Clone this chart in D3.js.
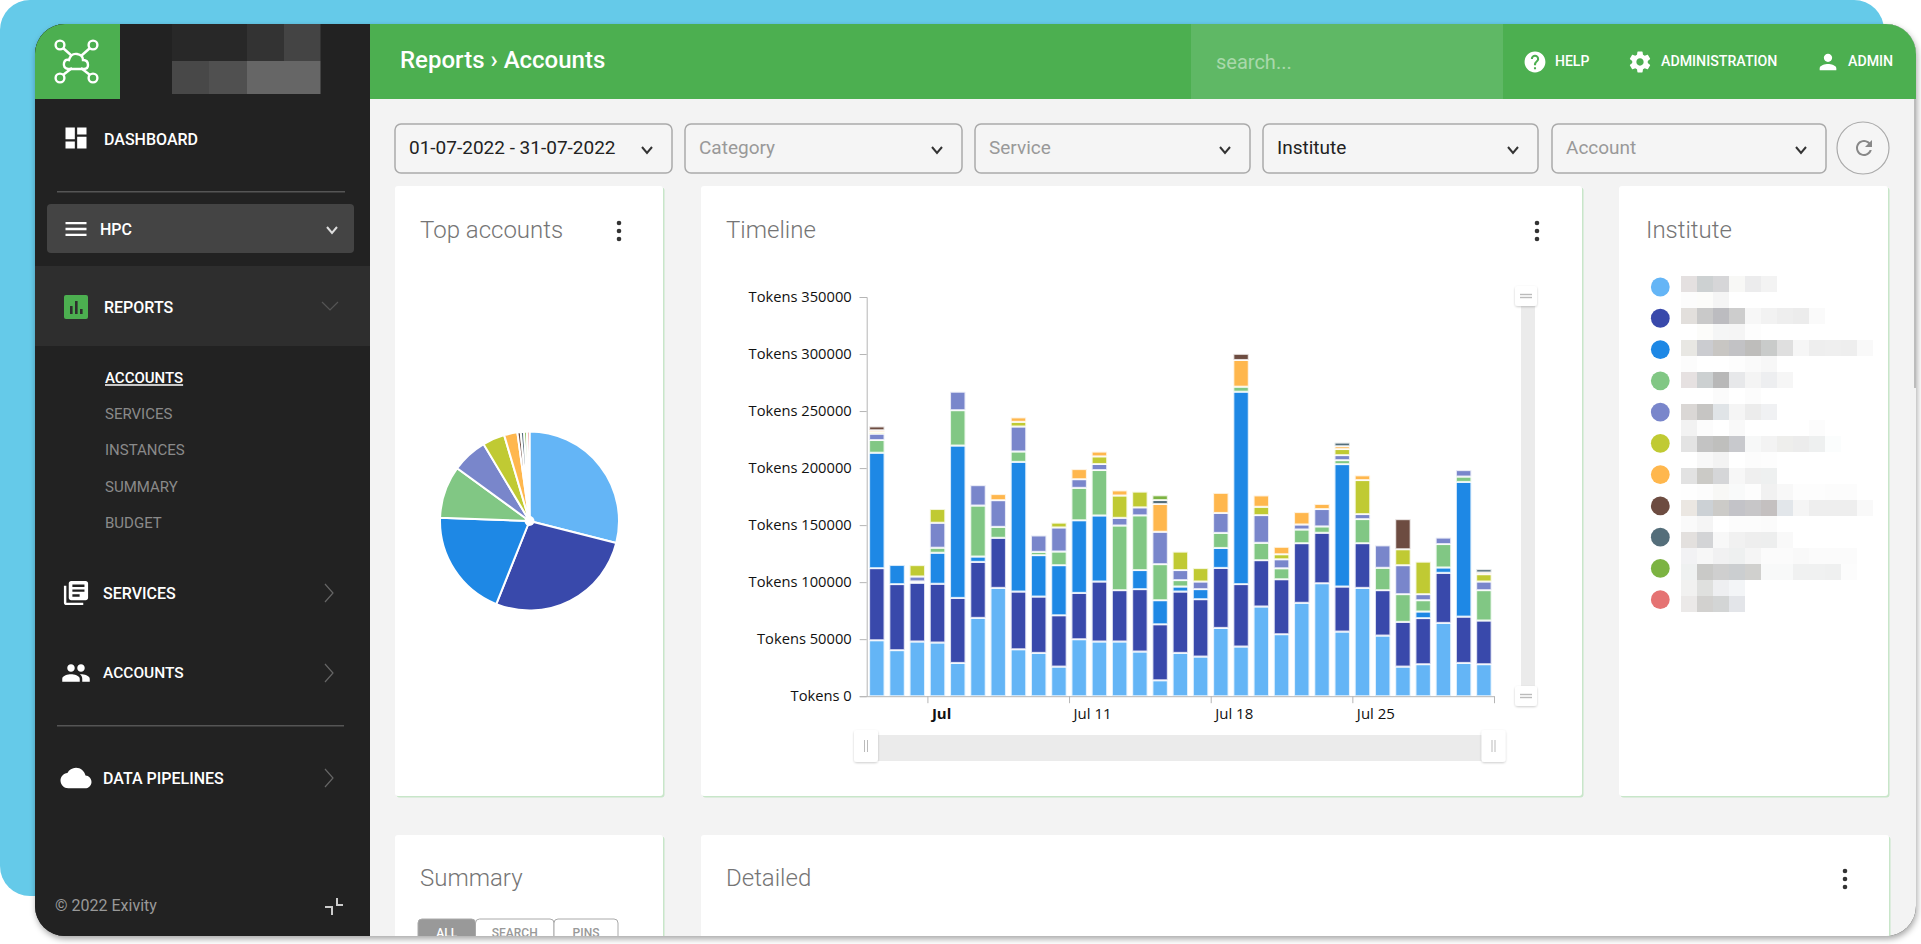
<!DOCTYPE html>
<html>
<head>
<meta charset="utf-8">
<title>Reports - Accounts</title>
<script src="https://cdnjs.cloudflare.com/ajax/libs/d3/7.8.5/d3.min.js"></script>
<style>
  html, body { margin: 0; padding: 0; background: #fff; overflow: hidden; }
  svg { display: block; font-family: Roboto, sans-serif; }
  .axis text { font-family: "Open Sans", sans-serif; font-size: 14.7px; fill: #111; }
  .axis path, .axis line { stroke: #b5b5b5; }
</style>
</head>
<body>
<svg width="1921" height="944"></svg>
<script>
// values
var days = d3.range(1, 32);
var institutes = ["s1", "s2", "s3", "s4", "s5", "s6", "s7", "s8", "s9", "s10", "s11"];
var colors = ["#64b5f6", "#3949ab", "#1e88e5", "#81c784", "#7986cb", "#c0ca33", "#ffb74d", "#6d4c41", "#546e7a", "#7cb342", "#e57373"];

var s1  = [49100, 40400, 48000, 47100, 29200, 68700, 95000, 41200, 38000, 26000, 50000, 48000, 48000, 39200, 14000, 38000, 34800, 59900, 43600, 78700, 54400, 81900, 99100, 56700, 95000, 53200, 26000, 28100, 64300, 29200, 28100];
var s2  = [63200, 57900, 51500, 51500, 57000, 49100, 43900, 50600, 49400, 45000, 40600, 52600, 45000, 54700, 49100, 53800, 50300, 52600, 54700, 40600, 48200, 52300, 44200, 39500, 39200, 39800, 39200, 40400, 43900, 40600, 38300];
var s3  = [101200, 16700, 600, 27200, 133600, 4700, 0, 113700, 36300, 43900, 63700, 57900, 0, 16700, 21100, 4400, 8800, 17500, 168700, 0, 0, 0, 0, 107300, 0, 0, 0, 5800, 4700, 118100, 0];
var s4  = [11100, 0, 600, 4400, 31000, 44700, 9600, 9100, 2900, 12000, 28400, 39800, 56700, 48000, 31600, 5600, 0, 13200, 4400, 15200, 9600, 12000, 5600, 3500, 21100, 19600, 24300, 9900, 20500, 4700, 26600];
var s5  = [5600, 0, 4300, 21900, 16100, 17800, 23400, 21900, 14300, 21100, 7600, 5300, 6700, 7000, 28400, 8800, 6700, 17500, 0, 24300, 7900, 4400, 15200, 4400, 4400, 19600, 25400, 5300, 5600, 5600, 7600];
var s6  = [1500, 0, 9900, 12000, 0, 0, 0, 4100, 0, 4100, 0, 6700, 19600, 13700, 0, 16100, 11700, 0, 0, 7300, 4400, 0, 0, 5300, 29800, 0, 14000, 28400, 0, 0, 6400];
var s7  = [1500, 0, 0, 0, 0, 0, 5300, 3800, 0, 0, 8800, 4100, 4400, 0, 24300, 0, 0, 17500, 23400, 9900, 6400, 10800, 4400, 2500, 4100, 0, 0, 0, 0, 0, 1500];
var s8  = [3300, 0, 0, 0, 0, 0, 0, 0, 0, 0, 0, 0, 0, 0, 0, 0, 0, 0, 5300, 0, 0, 0, 0, 0, 0, 0, 26300, 0, 0, 0, 0];
var s9  = [0, 0, 0, 0, 0, 0, 0, 0, 0, 0, 0, 0, 0, 0, 3500, 0, 0, 0, 0, 0, 0, 0, 0, 3100, 0, 0, 0, 0, 0, 0, 2900];
var s10 = [0, 0, 0, 0, 0, 0, 0, 0, 0, 0, 0, 0, 0, 0, 4100, 0, 0, 0, 0, 0, 0, 0, 0, 0, 0, 0, 0, 0, 0, 0, 0];
var s11 = [0, 0, 0, 0, 0, 0, 0, 0, 0, 0, 0, 0, 0, 0, 0, 0, 0, 0, 0, 0, 0, 0, 0, 0, 0, 0, 0, 0, 0, 0, 0];

var pieValues = [28.94, 27.06, 19.5, 9.44, 6.4, 4.0, 2.4, 0.6, 0.6, 0.5, 0.46];
var yTicks = [0, 50000, 100000, 150000, 200000, 250000, 300000, 350000];
var xTickDays = [4, 11, 18, 25, 32];
var xTickLabels = ["Jul", "Jul 11", "Jul 18", "Jul 25", ""];

// blurred-out names in the legend, one row of grey cells per line
var mosaic = [
  "e4e0e0 cdd1d2 d6d6d8 f8f8f6 ececed f3f3f3",
  "fcfcfc fcfcfa f5f5f5",
  "e2dfdc c9c9c9 bcbcc0 cdcdcd f7f7f7 f2f2f2 eeeeee ececec fafafa",
  "ffffff fcfcfa f5f6f6 f5f5f5 fdfdfd",
  "e8e7e3 cbccd0 c8c6c3 c2c2c5 bebdbb c9cbca dfdfdf f6f6f6 eeeeee efefef eeeeee f9f9f9",
  "fcfcfc ffffff ffffff fdfdfd fafafa f7f7f7",
  "e6e1e1 ccd0d1 b8b8b8 e7e8ea f4f4f4 edeef0 f6f6f6",
  "ffffff ffffff fbfbfb ffffff fcfcfc",
  "dad7d5 c6c5c3 e0e4e7 f5f5f5 ececec f0f1f3",
  "f2f2f2 fcfcfc ffffff f9f9f9 ffffff ffffff ffffff ffffff fcfcfc",
  "e3e3e3 c3c3c3 bfbfbd c8c9cd f7f8f8 f3f3f3 eeeeec ececec eef0f0 fbfdfd",
  "ffffff f8f8f8 f3f3f3 ffffff fcfcfc fdfdfd",
  "e2e2e2 cbcac6 d5d6d8 f7f7f7 efefef eef0f0",
  "fefefe fcfcfc f8f8f6 f9fafa fdfdfd f1f1f1 f8f8f8 fdfdfd fdfdfd fcfcfc fcfcfc",
  "ebe7e2 ccd1d5 cccbc8 c3c3c8 c7c6c8 c4c0c0 e2e6ea f5f5f5 eeeeee eeeeee eeeeee f9f9f9",
  "fafafa f5f5f5 ffffff fcfcfc fcfcfc fbfbfb",
  "e3e0de d3d4d6 f8f8f8 f1f1f1 eeeeee edeeee f9f9f9",
  "f2f2f4 f7f7f7 f1f1f2 eef0f0 f5f5f5 fbfbfb fbfbfb f9f9f9 fbfbfb fbfbfb fbfbfb",
  "eff1f1 c9c9c7 cfcfcf cbced0 d0d0ce f8f9f9 f8f9f9 f0f1f1 f0f1f1 eff0f0 fcfcfc",
  "f1f1f0 dfe0de eeeff1 f3f5f7",
  "ebe9e8 d2d1cf d3d5d5 e3e5e9"
];

var icons = {
  dashboard: "M3 13h8V3H3v10zm0 8h8v-6H3v6zm10 0h8V11h-8v10zm0-18v6h8V3h-8z",
  menu: "M3 18h18v-2H3v2zm0-5h18v-2H3v2zm0-7v2h18V6H3z",
  reports: "M19 3H5c-1.1 0-2 .9-2 2v14c0 1.1.9 2 2 2h14c1.1 0 2-.9 2-2V5c0-1.1-.9-2-2-2zM9 17H7v-7h2v7zm4 0h-2V7h2v10zm4 0h-2v-4h2v4z",
  services: "M4 6H2v14c0 1.1.9 2 2 2h14v-2H4V6zm16-4H8c-1.1 0-2 .9-2 2v12c0 1.1.9 2 2 2h12c1.1 0 2-.9 2-2V4c0-1.1-.9-2-2-2zm-1 9H9V9h10v2zm-4 4H9v-2h6v2zm4-8H9V5h10v2z",
  people: "M16 11c1.66 0 2.99-1.34 2.99-3S17.66 5 16 5c-1.66 0-3 1.34-3 3s1.34 3 3 3zm-8 0c1.66 0 2.99-1.34 2.99-3S9.66 5 8 5C6.34 5 5 6.34 5 8s1.34 3 3 3zm0 2c-2.33 0-7 1.17-7 3.5V19h14v-2.5c0-2.33-4.67-3.5-7-3.5zm8 0c-.29 0-.62.02-.97.05 1.16.84 1.97 1.97 1.97 3.45V19h6v-2.5c0-2.33-4.67-3.5-7-3.5z",
  cloud: "M19.35 10.04C18.67 6.59 15.64 4 12 4 9.11 4 6.6 5.64 5.35 8.04 2.34 8.36 0 10.91 0 14c0 3.31 2.69 6 6 6h13c2.76 0 5-2.24 5-5 0-2.64-2.05-4.78-4.65-4.96z",
  help: "M12 2C6.48 2 2 6.48 2 12s4.48 10 10 10 10-4.48 10-10S17.52 2 12 2zm1 17h-2v-2h2v2zm2.07-7.75l-.9.92C13.45 12.9 13 13.5 13 15h-2v-.5c0-1.1.45-2.1 1.17-2.83l1.24-1.26c.37-.36.59-.86.59-1.41 0-1.1-.9-2-2-2s-2 .9-2 2H8c0-2.21 1.79-4 4-4s4 1.79 4 4c0 .88-.36 1.68-.93 2.25z",
  settings: "M19.43 12.98c.04-.32.07-.64.07-.98s-.03-.66-.07-.98l2.11-1.65c.19-.15.24-.42.12-.64l-2-3.46c-.12-.22-.39-.3-.61-.22l-2.49 1c-.52-.4-1.08-.73-1.69-.98l-.38-2.65C14.46 2.18 14.25 2 14 2h-4c-.25 0-.46.18-.49.42l-.38 2.65c-.61.25-1.17.59-1.69.98l-2.49-1c-.23-.09-.49 0-.61.22l-2 3.46c-.13.22-.07.49.12.64l2.11 1.65c-.04.32-.07.65-.07.98s.03.66.07.98l-2.11 1.65c-.19.15-.24.42-.12.64l2 3.46c.12.22.39.3.61.22l2.49-1c.52.4 1.08.73 1.69.98l.38 2.65c.03.24.24.42.49.42h4c.25 0 .46-.18.49-.42l.38-2.65c.61-.25 1.17-.59 1.69-.98l2.49 1c.23.09.49 0 .61-.22l2-3.46c.12-.22.07-.49-.12-.64l-2.11-1.65zM12 15.5c-1.93 0-3.5-1.57-3.5-3.5s1.57-3.5 3.5-3.5 3.5 1.57 3.5 3.5-1.57 3.5-3.5 3.5z",
  person: "M12 12c2.21 0 4-1.79 4-4s-1.79-4-4-4-4 1.79-4 4 1.79 4 4 4zm0 2c-2.67 0-8 1.34-8 4v2h16v-2c0-2.66-5.33-4-8-4z",
  refresh: "M17.65 6.35C16.2 4.9 14.21 4 12 4c-4.42 0-7.99 3.58-7.99 8s3.57 8 7.99 8c3.73 0 6.84-2.55 7.73-6h-2.08c-.82 2.33-3.04 4-5.65 4-3.31 0-6-2.69-6-6s2.69-6 6-6c1.66 0 3.14.69 4.22 1.78L13 11h7V4l-2.35 2.35z"
};

var svg = d3.select("svg");
var defs = svg.append("defs");

var shadow = defs.append("filter").attr("id", "winShadow")
  .attr("x", "-5%").attr("y", "-5%").attr("width", "110%").attr("height", "110%");
shadow.append("feDropShadow").attr("dx", 1).attr("dy", 3).attr("stdDeviation", 3)
  .attr("flood-color", "#000").attr("flood-opacity", 0.35);

var handleShadow = defs.append("filter").attr("id", "handleShadow")
  .attr("x", "-30%").attr("y", "-30%").attr("width", "160%").attr("height", "160%");
handleShadow.append("feDropShadow").attr("dx", 0).attr("dy", 1).attr("stdDeviation", 1)
  .attr("flood-color", "#000").attr("flood-opacity", 0.2);

defs.append("clipPath").attr("id", "winClip").append("rect")
  .attr("x", 35).attr("y", 24).attr("width", 1881).attr("height", 912).attr("rx", 30);

function rect(parent, x, y, w, h, fill, rx) {
  return parent.append("rect").attr("x", x).attr("y", y).attr("width", w).attr("height", h)
    .attr("fill", fill).attr("rx", rx || 0);
}

function label(parent, x, y, str, size, fill, weight, font) {
  return parent.append("text").attr("x", x).attr("y", y).attr("dy", "0.35em")
    .attr("font-size", size).attr("fill", fill).attr("font-weight", weight || 400)
    .attr("font-family", font || null).text(str);
}

function icon(parent, name, cx, cy, size, fill) {
  var k = size / 24;
  return parent.append("path").attr("d", icons[name]).attr("fill", fill)
    .attr("transform", "translate(" + (cx - size / 2) + "," + (cy - size / 2) + ") scale(" + k + ")");
}

function chevronDown(parent, cx, cy, color) {
  parent.append("path").attr("d", "M" + (cx - 5) + "," + (cy - 3) + "L" + cx + "," + (cy + 3) + "L" + (cx + 5) + "," + (cy - 3))
    .attr("fill", "none").attr("stroke", color).attr("stroke-width", 2);
}

function chevronRight(parent, cx, cy) {
  parent.append("path").attr("d", "M" + (cx - 4) + "," + (cy - 9) + "L" + (cx + 4) + "," + cy + "L" + (cx - 4) + "," + (cy + 9))
    .attr("fill", "none").attr("stroke", "#666").attr("stroke-width", 1.2);
}

// page backdrop and window
rect(svg, 0, 0, 1884, 896, "#65cae9", 30);
rect(svg, 35, 24, 1881, 912, "#222", 30).attr("filter", "url(#winShadow)");
var win = svg.append("g").attr("clip-path", "url(#winClip)");

rect(win, 370, 24, 1550, 920, "#f3f3f3");
rect(win, 1914, 60, 2, 328, "#bcbcbc");

// header
rect(win, 370, 24, 1550, 75, "#4caf50");
rect(win, 1191, 24, 312, 75, "#5fb865");
label(win, 400, 60, "Reports \u203a Accounts", 24, "#fff", 500);
label(win, 1216, 62, "search...", 20, "#a9d8ab", 400);
icon(win, "help", 1535, 62, 25, "#fff");
label(win, 1555, 61, "HELP", 14, "#fff", 500);
icon(win, "settings", 1640, 62, 25, "#fff");
label(win, 1661, 61, "ADMINISTRATION", 14.2, "#fff", 500);
icon(win, "person", 1828, 62, 25, "#fff");
label(win, 1848, 61, "ADMIN", 14.2, "#fff", 500);

// sidebar
rect(win, 35, 24, 335, 920, "#222");
rect(win, 35, 24, 85, 75, "#4caf50");
var mosaicTop = [["#282828", 172, 75], ["#333", 247, 37], ["#444", 284, 36.5]];
mosaicTop.forEach(function(m) { rect(win, m[1], 24, m[2], 37, m[0]); });
var mosaicBottom = [["#484848", 172, 37], ["#505050", 209, 38], ["#666", 247, 73.5]];
mosaicBottom.forEach(function(m) { rect(win, m[1], 61, m[2], 33, m[0]); });

// logo
var logo = win.append("g").attr("fill", "none").attr("stroke", "#fff").attr("stroke-width", 2.4);
var logoEnds = [[60, 45], [93, 45], [60, 78], [93, 78]];
logoEnds.forEach(function(p) {
  logo.append("circle").attr("cx", p[0]).attr("cy", p[1]).attr("r", 4.4);
  logo.append("line").attr("x1", p[0] + (p[0] < 76 ? 3 : -3)).attr("y1", p[1] + (p[1] < 60 ? 3 : -3))
    .attr("x2", p[0] + (p[0] < 76 ? 12 : -12)).attr("y2", p[1] + (p[1] < 60 ? 11 : -10));
});
logo.append("path").attr("d", "M68,69 q-5,-1 -4,-6 q1,-4 5,-3 q2,-7 8,-6 q6,1 6,6 q5,0 5,5 q0,4 -4,4 Z");

icon(win, "dashboard", 76, 138, 28, "#fff");
label(win, 104, 139, "DASHBOARD", 16, "#fff", 500);
rect(win, 57, 191, 288, 1.5, "#555");
rect(win, 47, 204, 307, 49, "#444", 4);
icon(win, "menu", 76, 229, 28, "#fff");
label(win, 100, 229, "HPC", 16, "#fff", 500);
chevronDown(win, 332, 230, "#ddd");

rect(win, 35, 266, 335, 80, "#2e2e2e");
rect(win, 64, 295, 24, 24, "#4caf50", 2);
icon(win, "reports", 76, 307, 28, "#4caf50");
win.append("g").selectAll("rect").data([[70, 306, 8], [75, 301, 13], [80, 309, 5]]).enter().append("rect")
  .attr("x", function(d) { return d[0]; }).attr("y", function(d) { return d[1]; })
  .attr("width", 2.6).attr("height", function(d) { return d[2]; }).attr("fill", "#2e2e2e");
label(win, 104, 307, "REPORTS", 16, "#fff", 500);
win.append("path").attr("d", "M322,302L330,310L338,302").attr("fill", "none").attr("stroke", "#555").attr("stroke-width", 1.2);

label(win, 105, 378, "ACCOUNTS", 15, "#fff", 500).attr("text-decoration", "underline");
var subItems = ["SERVICES", "INSTANCES", "SUMMARY", "BUDGET"];
var subY = [414, 450, 487, 523];
subItems.forEach(function(t, i) { label(win, 105, subY[i], t, 15, "#8a8a8a", 400); });

icon(win, "services", 76, 593, 29, "#fff");
label(win, 103, 593, "SERVICES", 16, "#fff", 500);
chevronRight(win, 329, 593);
icon(win, "people", 76, 673, 30, "#fff");
label(win, 103, 673, "ACCOUNTS", 15.5, "#fff", 500);
chevronRight(win, 329, 673);
rect(win, 57, 725, 287, 1.5, "#555");
icon(win, "cloud", 76, 778, 31, "#fff");
label(win, 103, 778, "DATA PIPELINES", 16, "#fff", 500);
chevronRight(win, 329, 778);
label(win, 55, 905, "\u00a9 2022 Exivity", 16, "#999", 400);
win.append("path").attr("d", "M337,898v7h6M332,915v-8h-7").attr("fill", "none").attr("stroke", "#ccc").attr("stroke-width", 2);

// filter bar
var filters = ["01-07-2022 - 31-07-2022", "Category", "Service", "Institute", "Account"];
var filterX = [395, 685, 975, 1263, 1552];
var filterW = [277, 277, 275, 275, 274];
var filterColor = ["#222", "#999", "#999", "#222", "#999"];
filters.forEach(function(t, i) {
  rect(win, filterX[i], 124, filterW[i], 49, "#f5f5f5", 6).attr("stroke", "#aaa").attr("stroke-width", 1.5);
  label(win, filterX[i] + 14, 147, t, 19, filterColor[i], 400);
  chevronDown(win, filterX[i] + filterW[i] - 25, 150, "#333");
});
win.append("circle").attr("cx", 1863).attr("cy", 148).attr("r", 26).attr("fill", "#f5f5f5").attr("stroke", "#aaa").attr("stroke-width", 1.2);
icon(win, "refresh", 1864, 148, 24, "#888");

// cards
function card(x, y, w, h, title, titleX, titleY) {
  rect(win, x + 1.5, y + 1.5, w, h, "#c8e6c9", 3);
  rect(win, x, y, w, h, "#fff", 3);
  label(win, titleX, titleY, title, 24, "#757575", 300);
}
function dots(cx, cy) {
  [-8, 0, 8].forEach(function(d) {
    win.append("circle").attr("cx", cx).attr("cy", cy + d).attr("r", 2.3).attr("fill", "#333");
  });
}
card(395, 186, 268, 610, "Top accounts", 420, 230);
card(701, 186, 881, 610, "Timeline", 726, 230);
card(1619, 186, 269, 610, "Institute", 1646, 230);
card(395, 835, 268, 140, "Summary", 420, 878);
card(701, 835, 1188, 140, "Detailed", 726, 878);
dots(619, 231);
dots(1537, 231);
dots(1845, 879);

// summary tabs
var tabs = ["ALL", "SEARCH", "PINS"];
var tabX = [418, 475.5, 554];
var tabW = [57.5, 78.5, 64];
tabs.forEach(function(t, i) {
  rect(win, tabX[i], 919, tabW[i], 30, i === 0 ? "#999" : "#fff", 4).attr("stroke", "#aaa");
  label(win, tabX[i] + tabW[i] / 2, 933, t, 12, i === 0 ? "#fff" : "#999", 500).attr("text-anchor", "middle");
});

// pie
var pieG = win.append("g").attr("transform", "translate(529.5,521)");
var pie = d3.pie().sort(null)(pieValues);
var arc = d3.arc().innerRadius(0).outerRadius(89.5);
pieG.selectAll("path").data(pie).enter().append("path")
  .attr("d", arc)
  .attr("fill", function(d, i) { return colors[i]; })
  .attr("stroke", "#fff").attr("stroke-width", 2);
pieG.append("circle").attr("r", 5).attr("fill", "#fff");

// timeline
var table = days.map(function(d, i) {
  return {day: d, s1: s1[i], s2: s2[i], s3: s3[i], s4: s4[i], s5: s5[i], s6: s6[i], s7: s7[i], s8: s8[i], s9: s9[i], s10: s10[i], s11: s11[i]};
});
var stacked = d3.stack().keys(institutes)(table);

var plot = {left: 866.7, right: 1494, top: 297, bottom: 696.2};
var x = d3.scaleBand().domain(days).range([plot.left, plot.right]).paddingInner(0.24).paddingOuter(0.12);
var xTime = d3.scaleLinear().domain([1, 32]).range([plot.left, plot.right]);
var y = d3.scaleLinear().domain([0, 350000]).range([plot.bottom, plot.top]);

var tl = win.append("g");

// scrollbars sit under the bars
rect(tl, 1521, 296, 14, 400, "#ebebeb");
rect(tl, plot.left, 735, plot.right - plot.left, 26, "#ebebeb");

tl.selectAll(".series").data(stacked).enter().append("g")
    .attr("class", "series")
    .attr("fill", function(d, i) { return colors[i]; })
  .selectAll("rect").data(function(d) { return d.filter(function(p) { return p[1] > p[0]; }); }).enter().append("rect")
    .attr("x", function(d) { return x(d.data.day); })
    .attr("y", function(d) { return y(d[1]); })
    .attr("width", x.bandwidth())
    .attr("height", function(d) { return y(d[0]) - y(d[1]); })
    .attr("stroke", "#fff").attr("stroke-opacity", 0.8).attr("stroke-width", 2);

var yAxis = tl.append("g").attr("class", "axis")
  .attr("transform", "translate(" + plot.left + ",0)")
  .call(d3.axisLeft(y).tickValues(yTicks).tickSize(7).tickPadding(8).tickFormat(function(d) { return "Tokens " + d; }));
yAxis.selectAll("text").attr("fill", "#111");

var xAxis = tl.append("g").attr("class", "axis")
  .attr("transform", "translate(0," + plot.bottom + ")")
  .call(d3.axisBottom(xTime).tickValues(xTickDays).tickSize(7).tickSizeOuter(0).tickFormat(function(d, i) { return xTickLabels[i]; }));
xAxis.selectAll("text").attr("text-anchor", "start").attr("dx", 4).attr("y", 12)
  .style("font-size", "15px")
  .style("font-weight", function(d, i) { return i === 0 ? 700 : 400; });

// scrollbar handles
function handle(hx, hy, w, h, vertical) {
  rect(tl, hx, hy, w, h, "#fff", 3).attr("filter", "url(#handleShadow)");
  var cx = hx + w / 2, cy = hy + h / 2;
  [-1.5, 1.5].forEach(function(d) {
    if (vertical) tl.append("line").attr("x1", cx + d).attr("x2", cx + d).attr("y1", cy - 6).attr("y2", cy + 6).attr("stroke", "#bbb");
    else tl.append("line").attr("x1", cx - 6).attr("x2", cx + 6).attr("y1", cy + d).attr("y2", cy + d).attr("stroke", "#bbb").attr("stroke-width", 1.4);
  });
}
handle(854, 730, 24, 32, true);
handle(1481.5, 730, 24, 32, true);
handle(1515, 286, 22, 20, false);
handle(1515, 686, 22, 20, false);

// legend
var legend = win.append("g");
legend.selectAll("circle").data(colors).enter().append("circle")
  .attr("cx", 1660.3)
  .attr("cy", function(d, i) { return 287 + i * 31.27; })
  .attr("r", 9.4)
  .attr("fill", function(d) { return d; });
mosaic.forEach(function(row, r) {
  row.split(" ").forEach(function(hex, c) {
    rect(legend, 1681 + c * 16, 276 + r * 16, 16, 16, "#" + hex);
  });
});
</script>
</body>
</html>
